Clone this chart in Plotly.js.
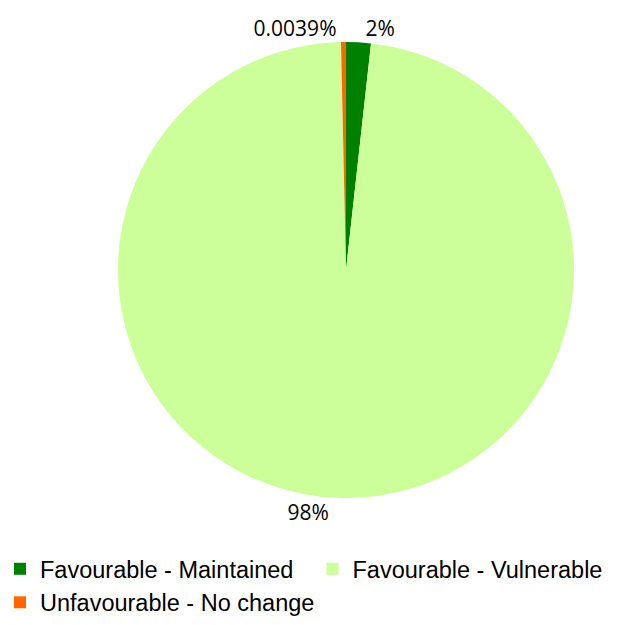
<!DOCTYPE html>
<html><head><meta charset="utf-8">
<script src="https://cdn.plot.ly/plotly-3.0.1.min.js"></script>
<style>html,body{margin:0;padding:0;background:#fff}#chart{width:625px;height:625px}</style>
</head><body><div id="chart"></div>
<script>
const categories = ["Favourable - Maintained", "Favourable - Vulnerable", "Unfavourable - No change"];
const values = [1.75, 97.9, 0.35];
const labelsText = ["2%", "98%", "0.0039%"];
const colors = ["#008000", "#ccff99", "#ff6600"];

const trace = {
  type: "pie",
  labels: categories,
  values: values,
  text: labelsText,
  textinfo: "text",
  texttemplate: "%{text}",
  textposition: "outside",
  sort: false,
  direction: "clockwise",
  rotation: 0,
  marker: {colors: colors, line: {width: 0}},
  textfont: {family: "Open Sans", size: 21, color: "#000"},
  domain: {x: [0.1888, 0.9184], y: [0.2032, 0.9328]},
  hoverinfo: "label+percent"
};

const layout = {
  width: 625, height: 625,
  margin: {l: 0, r: 0, t: 0, b: 0},
  paper_bgcolor: "#fff",
  showlegend: true,
  legend: {
    orientation: "h", x: 0, y: 0, xanchor: "left", yanchor: "bottom",
    font: {family: "Arial", size: 23.5, color: "#000"},
    entrywidth: 0.5, entrywidthmode: "fraction",
    itemwidth: 30, tracegroupgap: 0
  }
};
Plotly.newPlot("chart", [trace], layout, {displayModeBar: false, staticPlot: true});
</script></body></html>
